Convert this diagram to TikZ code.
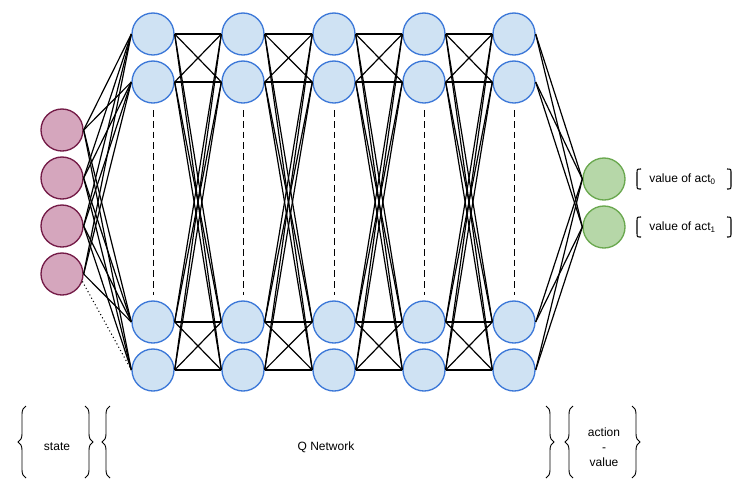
\documentclass[tikz,border=0pt]{standalone}
\usepackage{fontspec}
\setmainfont{Liberation Sans}
\usetikzlibrary{calc, decorations.pathreplacing}

\definecolor{inFill}{HTML}{D5A6BD}
\definecolor{inLine}{HTML}{741B47}
\definecolor{hidFill}{HTML}{CFE2F3}
\definecolor{hidLine}{HTML}{3C78D8}
\definecolor{outFill}{HTML}{B6D7A8}
\definecolor{outLine}{HTML}{6AA84F}

\tikzset{
  neuron/.style={circle, draw, line width=1pt, minimum size=31.5pt, inner sep=0pt},
  inneuron/.style={neuron, fill=inFill, draw=inLine},
  hidneuron/.style={neuron, fill=hidFill, draw=hidLine},
  outneuron/.style={neuron, fill=outFill, draw=outLine},
  link/.style={line width=0.9pt},
  gap/.style={line width=0.6pt, dash pattern=on 5pt off 3pt, shorten <=5pt, shorten >=4pt},
  curly/.style={decorate, decoration={brace, amplitude=6pt}, line width=0.7pt},
}

\begin{document}
\begin{tikzpicture}[x=0.75pt, y=-0.75pt, font=\fontsize{9}{11.3}\selectfont]
      \useasboundingbox (0,0) rectangle (753,494);

      \foreach \r [count=\j] in {130,178,226,274}
        \node[inneuron] (In\j) at (62,\r) {};
      \foreach \l [count=\i] in {153,243,334,424,514} {
        \foreach \r [count=\j] in {34,82,322,370}
          \node[hidneuron] (H\i\j) at (\l,\r) {};
        \draw[gap] (H\i2.south) -- (H\i3.north);
      }
      \node[outneuron] (Out0) at (604,179) {};
      \node[outneuron] (Out1) at (604,227) {};

      % state -> first layer
      \foreach \a in {1,2,3} {
        \foreach \b in {1,...,4}
          \draw[link] (In\a.east) -- (H1\b.west);
      }
      \foreach \b in {1,2,3}
        \draw[link] (In4.east) -- (H1\b.west);
      \draw[line width=0.8pt, dotted] (In4.-20) -- (H14.west);

      % layer -> layer
      \foreach \i/\k in {1/2,2/3,3/4,4/5} {
        \foreach \a in {1,...,4} {
          \foreach \b in {1,...,4}
            \draw[link] (H\i\a.east) -- (H\k\b.west);
        }
      }
      \foreach \a in {1,...,4} {
        \draw[link] (H5\a.east) -- (Out0.west);
        \draw[link] (H5\a.east) -- (Out1.west);
      }

      % output labels
      \foreach \o/\y in {0/179,1/227} {
        \node[anchor=west, inner sep=0pt] (Val\o) at (649,\y) {value of act\textsubscript{\o}};
        \draw[line width=0.8pt] (641,\y-10) .. controls (637,\y-10) .. (637,\y-6) -- (637,\y+6) .. controls (637,\y+10) .. (641,\y+10);
        \draw[line width=0.8pt] (727,\y-10) .. controls (731,\y-10) .. (731,\y-6) -- (731,\y+6) .. controls (731,\y+10) .. (727,\y+10);
      }

      % bottom braces
      \node (State) at (57,447) {state};
      \node (QNet) at (326,447) {Q Network};
      \node[align=center] (ActVal) at (604,447) {action\\-\\value};
      \draw[curly] (26,478) -- (26,406);
      \draw[curly] (85,406) -- (85,478);
      \draw[curly] (110,478) -- (110,406);
      \draw[curly] (546,406) -- (546,478);
      \draw[curly] (573,478) -- (573,406);
      \draw[curly] (632,406) -- (632,478);
\end{tikzpicture}
\end{document}
